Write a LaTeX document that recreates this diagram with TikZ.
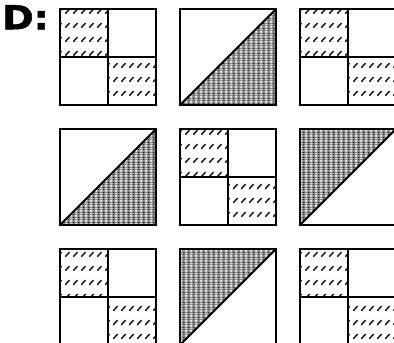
\documentclass[tikz,border=0pt]{standalone}
\usepackage{fontspec}
\newfontfamily\heavyfont[FakeBold=1.5]{DejaVu Sans Bold}
\usetikzlibrary{patterns.meta}
\tikzdeclarepattern{
  name=dashhatch,
  type=colored,
  bottom left={(0pt,0pt)},
  top right={(8pt,13.5pt)},
  tile size={(8pt,13.5pt)},
  code={
    \draw[line width=1.7pt, black!85, line cap=round] (1.8pt,4.8pt) -- (5.8pt,8.8pt);
  }
}
\tikzdeclarepattern{
  name=crossdots,
  type=colored,
  bottom left={(0pt,0pt)},
  top right={(4.6pt,4.6pt)},
  tile size={(4.6pt,4.6pt)},
  code={
    \fill[black!45] (0pt,0pt) rectangle (4.6pt,4.6pt);
    \fill[white] (2.3pt,2.3pt) circle (1.3pt);
    \fill[black] (0pt,0pt) circle (0.7pt);
    \fill[black] (4.6pt,0pt) circle (0.7pt);
    \fill[black] (0pt,4.6pt) circle (0.7pt);
    \fill[black] (4.6pt,4.6pt) circle (0.7pt);
  }
}
\tikzset{
  edge/.style={line width=2pt, line join=miter},
  hatchfill/.style={pattern=dashhatch},
  dotfill/.style={pattern=crossdots},
  quadsq/.pic={
    \fill[hatchfill] (0,0) rectangle (48,48);
    \fill[hatchfill] (48,48) rectangle (96,96);
    \draw[edge] (48,0) -- (48,96);
    \draw[edge] (0,48) -- (96,48);
    \draw[edge] (0,0) rectangle (96,96);
  },
  lrsq/.pic={
    \fill[dotfill] (0,96) -- (96,96) -- (96,0) -- cycle;
    \draw[edge] (0,96) -- (96,0);
    \draw[edge] (0,0) rectangle (96,96);
  },
  ulsq/.pic={
    \fill[dotfill] (0,0) -- (96,0) -- (0,96) -- cycle;
    \draw[edge] (0,96) -- (96,0);
    \draw[edge] (0,0) rectangle (96,96);
  }
}
\begin{document}
\begin{tikzpicture}[x=1pt,y=-1pt]
\useasboundingbox (0,0) rectangle (394,343);
\clip (0,0) rectangle (394,343);
\fill[white] (0,0) rectangle (394,343);
\node[anchor=north west, inner sep=0pt, font=\heavyfont\fontsize{33}{33}\selectfont, xscale=1.15] (label) at (2,5) {D:};
% row 1
\pic at (60,9) {quadsq};
\pic at (180,9) {lrsq};
\pic at (300,9) {quadsq};
% row 2
\pic at (60,129) {lrsq};
\pic at (180,129) {quadsq};
\pic at (300,129) {ulsq};
% row 3
\pic at (60,249) {quadsq};
\pic at (180,249) {ulsq};
\pic at (300,249) {quadsq};
\end{tikzpicture}
\end{document}
